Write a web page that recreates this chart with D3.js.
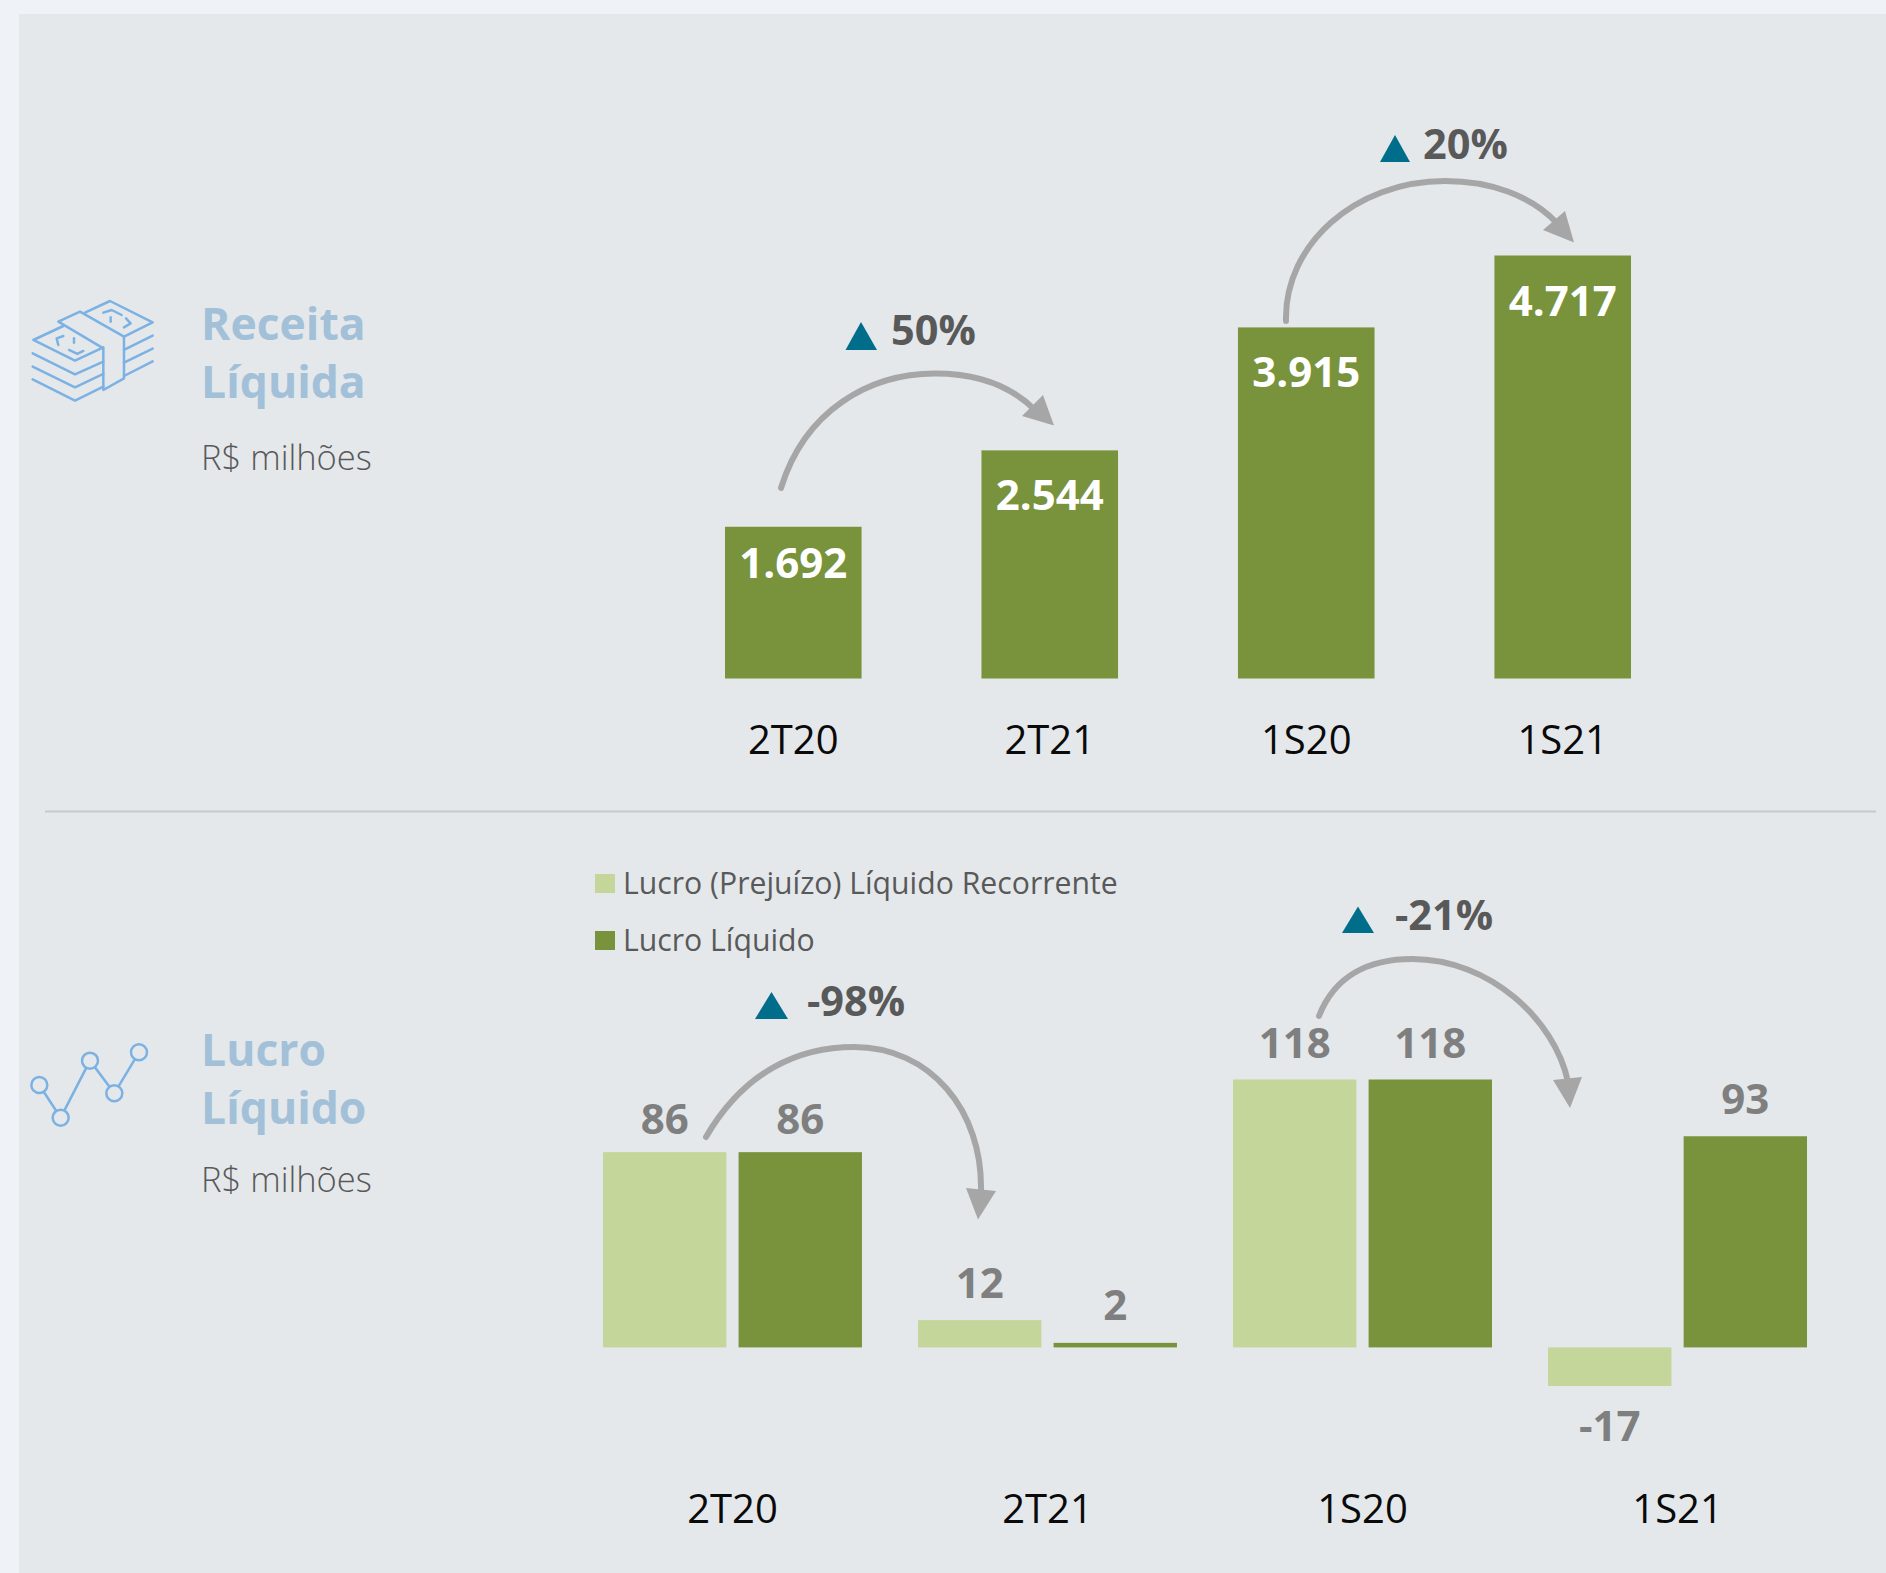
<!DOCTYPE html>
<html><head><meta charset="utf-8">
<script src="https://cdn.jsdelivr.net/npm/d3@7/dist/d3.min.js"></script>
<style>html,body{margin:0;padding:0;background:#eff3f7}svg{display:block}text{font-family:"Open Sans",sans-serif}</style>
</head><body><svg id="c" width="1886" height="1573"></svg>
<script>
// Data
const revenueCategories = ["2T20","2T21","1S20","1S21"];
const revenueValues = [1692,2544,3915,4717];
const revenueLabels = ["1.692","2.544","3.915","4.717"];
const profitCategories = ["2T20","2T21","1S20","1S21"];
const recurringValues = [86,12,118,-17];
const netValues = [86,2,118,93];
const seriesNames = ["Lucro (Prejuízo) Líquido Recorrente","Lucro Líquido"];

// Styles
const DARK="#78933b", LIGHT="#c4d69a", TEAL="#006d8a", ARROW="#a6a6a6", ICON="#7cb1e3", TITLE="#a3c0d9", PANEL="#e4e8eb";
const FONT_AXIS=40, FONT_VAL=42, FONT_PCT=41.5;

const svg=d3.select("#c");
svg.append("rect").attr("width",1886).attr("height",1573).attr("fill","#eff3f7");
svg.append("rect").attr("x",19).attr("y",14).attr("width",1867).attr("height",1559).attr("fill",PANEL);
svg.append("line").attr("x1",45).attr("x2",1876).attr("y1",811.5).attr("y2",811.5).attr("stroke","#c5cacd").attr("stroke-width",2);

// Revenue chart
const xRev=d3.scaleBand().domain(revenueCategories).range([725,1631]).paddingInner(0.4675);
const yRev=d3.scaleLinear().domain([0,4717]).range([678.5,255.5]);
const revLabelDy=[51,60,60,60];
svg.append("g").selectAll("rect").data(revenueValues).join("rect")
 .attr("x",(d,i)=>xRev(revenueCategories[i])).attr("width",xRev.bandwidth())
 .attr("y",d=>yRev(d)).attr("height",d=>yRev(0)-yRev(d)).attr("fill",DARK);
svg.append("g").selectAll("text").data(revenueValues).join("text")
 .attr("x",(d,i)=>xRev(revenueCategories[i])+xRev.bandwidth()/2)
 .attr("y",(d,i)=>yRev(d)+revLabelDy[i]).attr("text-anchor","middle")
 .attr("font-size",FONT_VAL).attr("font-weight",700).attr("fill","#fff")
 .text((d,i)=>revenueLabels[i]);

function styleAxis(g){
  g.select(".domain").remove();
  g.selectAll("line").remove();
  g.selectAll("text").attr("y",0).attr("dy",0).attr("font-size",FONT_AXIS).attr("fill","#0a0a0a").style("font-family",'"Open Sans",sans-serif');
}
svg.append("g").attr("transform","translate(0,754)").call(d3.axisBottom(xRev).tickSize(0)).call(styleAxis);

// Profit chart
const xPro=d3.scaleBand().domain(profitCategories).range([603,1807]).paddingInner(0.178);
const xSub=d3.scaleBand().domain([0,1]).range([0,xPro.bandwidth()]).paddingInner(0.09);
const yPro=d3.scaleLinear().domain([-17,118]).range([1386,1079.5]);
const labelGap=[[18,22,22,55],[18,23,22,22]];
[[recurringValues,LIGHT,0],[netValues,DARK,1]].forEach(([vals,color,s])=>{
  const cx=(i)=>xPro(profitCategories[i])+xSub(s);
  svg.append("g").selectAll("rect").data(vals).join("rect")
   .attr("x",(d,i)=>cx(i)).attr("width",xSub.bandwidth())
   .attr("y",d=>yPro(Math.max(d,0))).attr("height",d=>Math.abs(yPro(d)-yPro(0))).attr("fill",color);
  svg.append("g").selectAll("text").data(vals).join("text")
   .attr("x",(d,i)=>cx(i)+xSub.bandwidth()/2)
   .attr("y",(d,i)=>d<0?yPro(d)+labelGap[s][i]:yPro(d)-labelGap[s][i]).attr("text-anchor","middle")
   .attr("font-size",FONT_VAL).attr("font-weight",700).attr("fill","#7f7f7f").text(d=>d);
});
svg.append("g").attr("transform","translate(0,1523)").call(d3.axisBottom(xPro).tickSize(0)).call(styleAxis);

// Legend
[[LIGHT,874,894],[DARK,931,951]].forEach(([c,y,b],i)=>{
  svg.append("rect").attr("x",595).attr("y",y).attr("width",20).attr("height",19).attr("fill",c);
  svg.append("text").attr("x",623).attr("y",b).attr("font-size",30.2).attr("fill","#595959").text(seriesNames[i]);
});

// Arrows
const arrows=[
 {d:"M781,488C805,410 870,373.5 935,373.5C975,373.5 1010,385 1035,410",h:"1054,425.6 1043,395 1022,416"},
 {d:"M1286,321C1284,245 1355,181 1445,181C1490,181 1530,195 1557,223",h:"1574,242.5 1565,211 1543,230"},
 {d:"M706,1137C745,1070 800,1047 854,1047C930,1047 983,1110 981,1192",h:"978,1219.5 966,1188 996,1191"},
 {d:"M1319,1016C1335,975 1370,959 1412,959C1490,959 1555,1020 1568,1082",h:"1570,1108 1553,1080 1582,1077"}
];
svg.append("g").selectAll("path").data(arrows).join("path").attr("d",d=>d.d).attr("fill","none").attr("stroke",ARROW).attr("stroke-width",6).attr("stroke-linecap","round");
svg.append("g").selectAll("polygon").data(arrows).join("polygon").attr("points",d=>d.h).attr("fill",ARROW);

// Change badges
const badges=[
 {t:"50%",x:891,y:345,tri:"845.5,350 877,350 861,322"},
 {t:"20%",x:1423,y:159,tri:"1380,162 1410,162 1395,135"},
 {t:"-98%",x:807,y:1016,tri:"755,1019 788,1019 771.5,992"},
 {t:"-21%",x:1395,y:930,tri:"1342,933 1374,933 1358,906.5"}
];
svg.append("g").selectAll("polygon").data(badges).join("polygon").attr("points",d=>d.tri).attr("fill",TEAL);
svg.append("g").selectAll("text").data(badges).join("text").attr("x",d=>d.x).attr("y",d=>d.y)
 .attr("font-size",FONT_PCT).attr("font-weight",700).attr("fill","#595959").text(d=>d.t);

// Side titles
const titles=[
 {l:"Receita",y:340,b:1},{l:"Líquida",y:397.5,b:1},{l:"R$ milhões",y:469.5,b:0},
 {l:"Lucro",y:1066,b:1},{l:"Líquido",y:1123.5,b:1},{l:"R$ milhões",y:1192,b:0}
];
svg.append("g").selectAll("text").data(titles).join("text").attr("x",201).attr("y",d=>d.y)
 .attr("font-size",d=>d.b?44.5:34.5).attr("font-weight",d=>d.b?700:300).attr("fill",d=>d.b?TITLE:"#595959").text(d=>d.l);

// Money icon
const money=svg.append("g").attr("transform","translate(0,270) scale(0.3333)").attr("fill","none").attr("stroke",ICON).attr("stroke-width",7.5).attr("stroke-linejoin","round").attr("stroke-linecap","round");
[
 "M175,155L240,125L372,200L372,325L310,360L310,235Z",
 "M255,128L330,93L458,157L372,200",
 "M190,168L100,210L225,272L310,232",
 "M98,250L225,313L310,275","M98,290L225,352L310,312","M98,328L225,392L310,350",
 "M372,240L458,197","M372,278L458,236","M372,318L458,274",
 "M190,198L170,205L175,225","M207,240L232,252L250,243","M222,205L222,218",
 "M310,128L335,120L365,135","M372,172L392,160L378,145","M332,142L332,155"
].forEach(d=>money.append("path").attr("d",d));

// Trend icon
const trend=[[118,255],[182,353],[270,182],[343,280],[417,157]];
const lineIcon=svg.append("g").attr("transform","translate(0,1000) scale(0.3333)");
lineIcon.append("path").attr("d",d3.line()(trend)).attr("fill","none").attr("stroke",ICON).attr("stroke-width",7.5);
lineIcon.selectAll("circle").data(trend).join("circle").attr("cx",d=>d[0]).attr("cy",d=>d[1]).attr("r",24).attr("fill",PANEL).attr("stroke",ICON).attr("stroke-width",7.5);
</script></body></html>
